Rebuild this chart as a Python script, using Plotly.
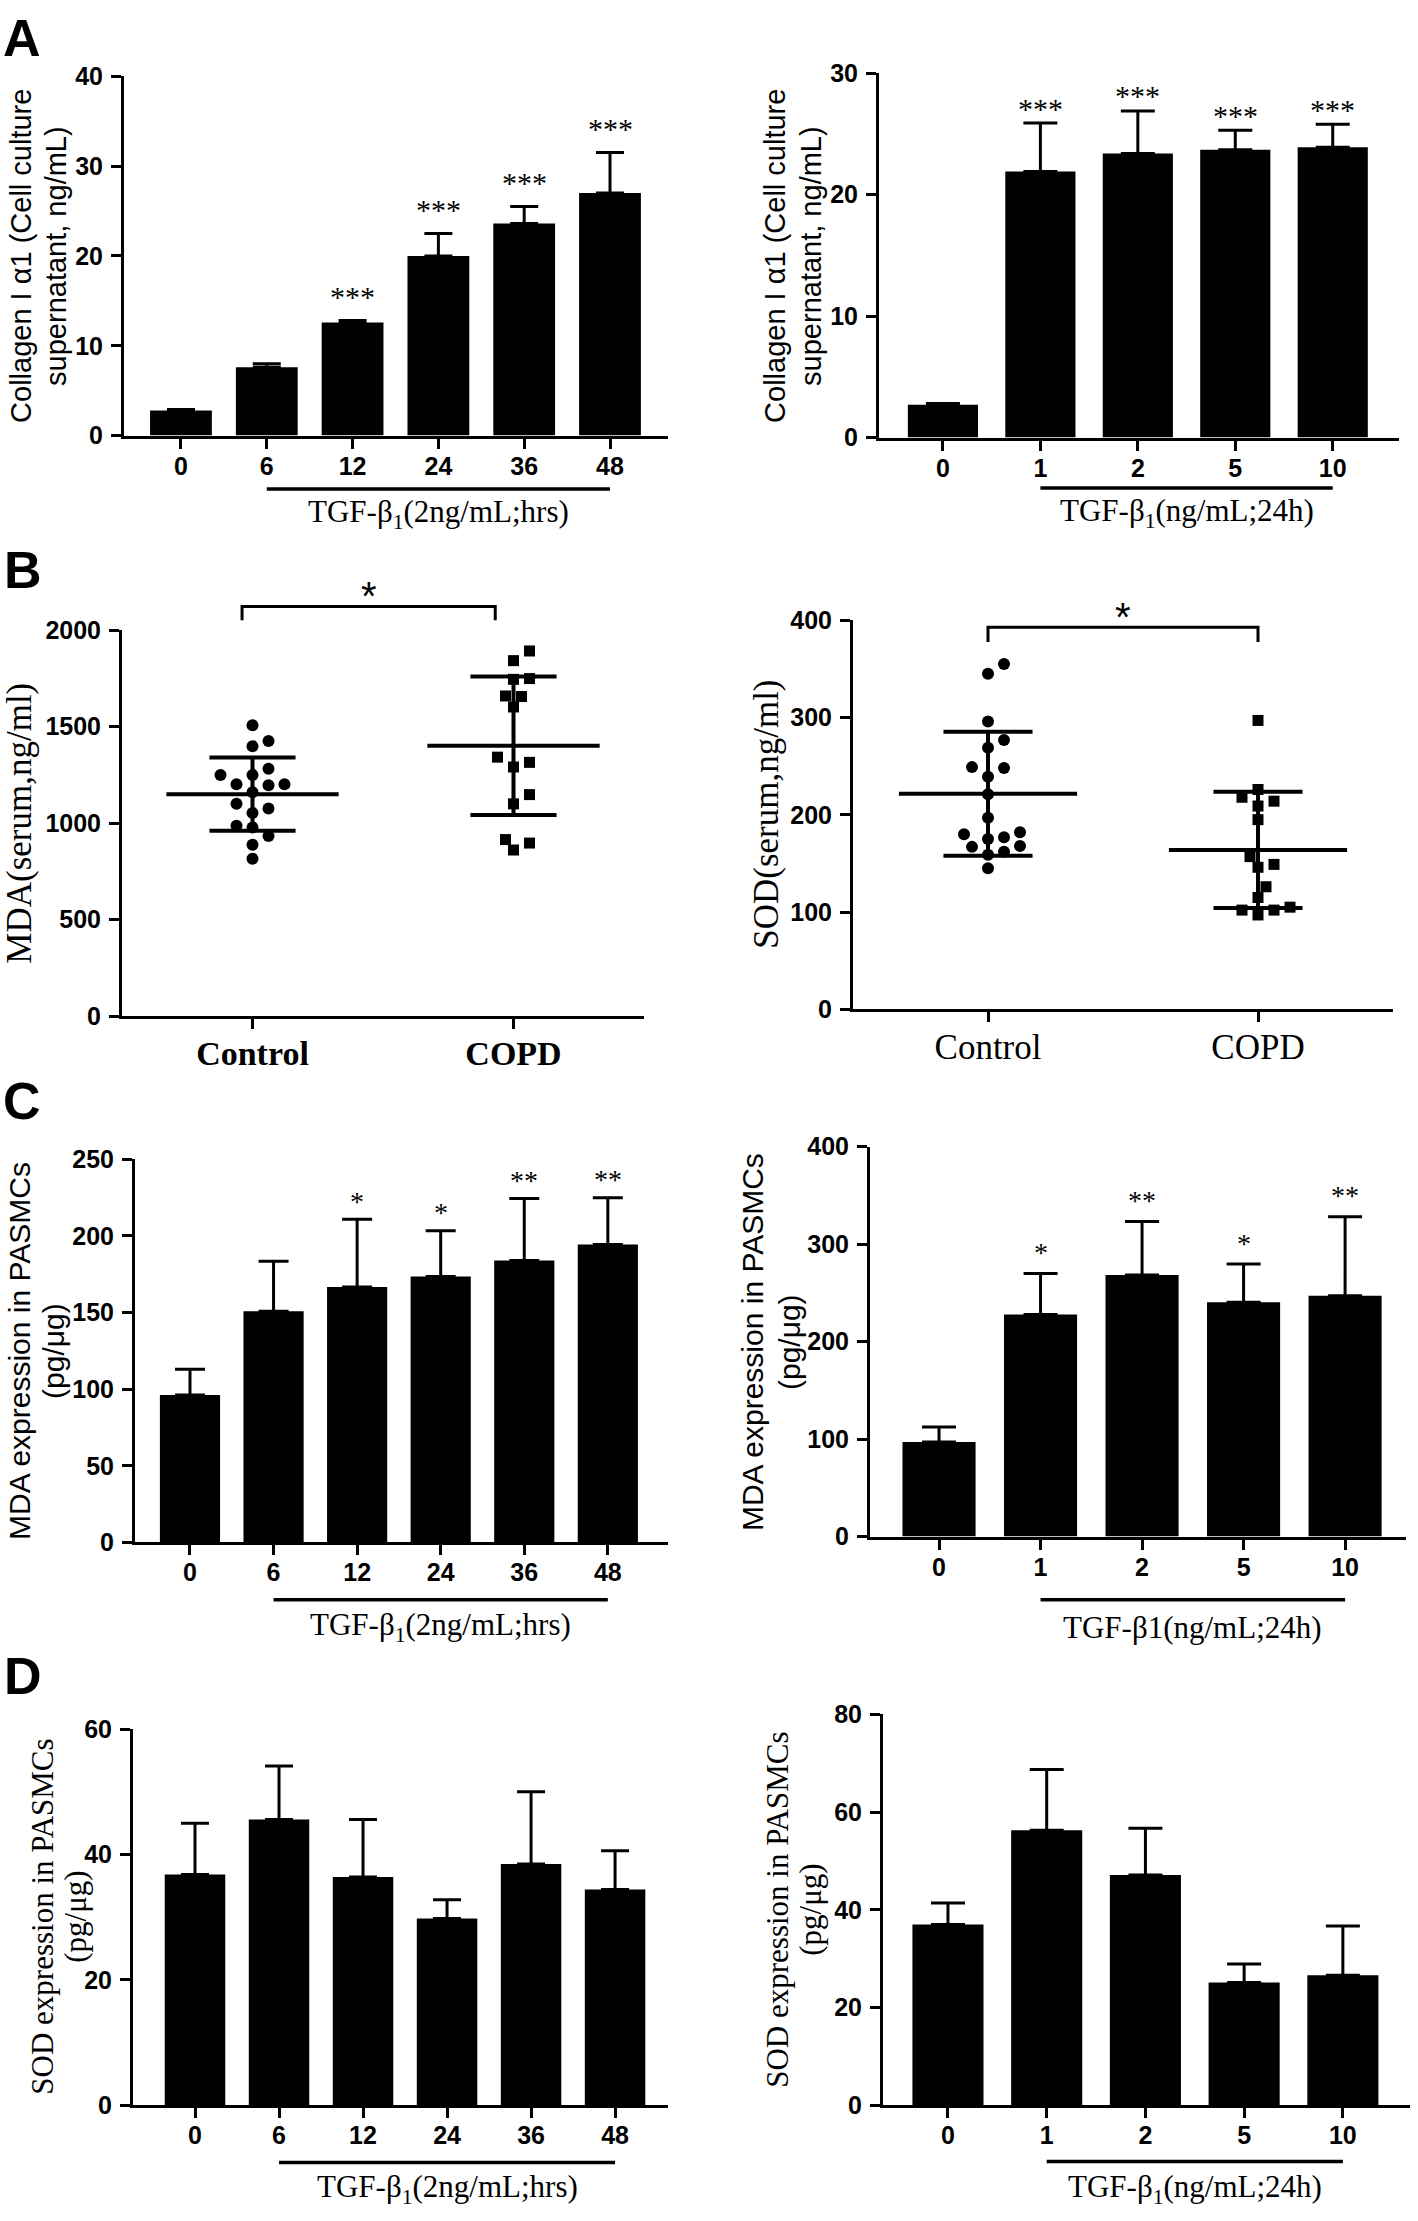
import numpy as np
import plotly.graph_objects as go

W, H = 1418, 2221
SANS = "Liberation Sans, Arial, Helvetica, sans-serif"
SERIF = "Liberation Serif, Times New Roman, Times, serif"

# ---------------- data ----------------
# A: Collagen I alpha1, time course and dose response
a_time_labels = ["0", "6", "12", "24", "36", "48"]
a_time_mean = [2.8, 7.6, 12.6, 20.0, 23.6, 27.0]
a_time_err = [0.1, 0.4, 0.2, 2.5, 1.9, 4.5]
a_time_sig = ["", "", "***", "***", "***", "***"]

a_dose_labels = ["0", "1", "2", "5", "10"]
a_dose_mean = [2.7, 21.9, 23.4, 23.7, 23.9]
a_dose_err = [0.1, 4.0, 3.5, 1.6, 1.9]
a_dose_sig = ["", "***", "***", "***", "***"]

# B: serum MDA / SOD, Control vs COPD
b_groups = ["Control", "COPD"]
b_mda_control = [1507, 1426, 1399, 1282, 1250, 1250, 1202, 1196, 1202, 1160,
                 1100, 1076, 1053, 978, 987, 933, 888, 816]
b_mda_copd = [1892, 1842, 1749, 1745, 1656, 1659, 1602, 1342, 1315, 1291,
              1148, 1100, 915, 897, 861]
b_sod_control = [355, 345, 296, 277, 269, 248, 249, 239, 221, 197, 180, 175,
                 177, 182, 167, 168, 162, 159, 145]
b_sod_copd = [297, 226, 218, 214, 209, 195, 157, 149, 146, 126, 115, 102,
              102, 105, 97]

# C: MDA expression in PASMCs
c_time_labels = ["0", "6", "12", "24", "36", "48"]
c_time_mean = [96.3, 150.9, 166.7, 173.6, 184.0, 194.4]
c_time_err = [16.7, 32.6, 44.3, 29.9, 40.5, 30.6]
c_time_sig = ["", "", "*", "*", "**", "**"]

c_dose_labels = ["0", "1", "2", "5", "10"]
c_dose_mean = [96.9, 227.7, 268.2, 240.4, 246.9]
c_dose_err = [15.4, 42.2, 54.8, 39.1, 81.1]
c_dose_sig = ["", "*", "**", "*", "**"]

# D: SOD expression in PASMCs
d_time_labels = ["0", "6", "12", "24", "36", "48"]
d_time_mean = [36.8, 45.6, 36.4, 29.8, 38.5, 34.4]
d_time_err = [8.2, 8.5, 9.2, 3.0, 11.5, 6.2]

d_dose_labels = ["0", "1", "2", "5", "10"]
d_dose_mean = [37.0, 56.3, 47.1, 25.1, 26.6]
d_dose_err = [4.4, 12.4, 9.6, 3.8, 10.1]

# ---------------- layout geometry (pixels) ----------------
panels = [
    dict(x0=124, x1=668, yt=63, yb=427, xr=[-0.664, 5.676], yr=[0, 40], dt=10),
    dict(x0=879, x1=1399, yt=60, yb=429, xr=[-0.656, 4.68], yr=[0, 30], dt=10),
    dict(x0=122, x1=644, yt=624, yb=1015, xr=[-0.5, 1.5], yr=[0, 2000], dt=500),
    dict(x0=853, x1=1393, yt=614, yb=1008, xr=[-0.5, 1.5], yr=[0, 400], dt=100),
    dict(x0=135, x1=668, yt=1160, yb=1548, xr=[-0.658, 5.72], yr=[0, 250], dt=50),
    dict(x0=870, x1=1406, yt=1147, yb=1542, xr=[-0.68, 4.6], yr=[0, 400], dt=100),
    dict(x0=133, x1=668, yt=1737, yb=2118, xr=[-0.738, 5.63], yr=[0, 60], dt=20),
    dict(x0=883, x1=1410, yt=1722, yb=2118, xr=[-0.658, 4.68], yr=[0, 80], dt=20),
]


def px_x(px):
    return px / W


def px_y(py):
    return 1 - py / H


fig = go.Figure()
annotations = []
shapes = []

for i, p in enumerate(panels):
    n = i + 1
    sfx = "" if n == 1 else str(n)
    ticks = list(range(p["yr"][0], p["yr"][1] + 1, p["dt"]))
    fig.update_layout(**{
        "xaxis" + sfx: dict(
            domain=[px_x(p["x0"]), px_x(p["x1"])], range=p["xr"], anchor="y" + sfx,
            showline=True, linewidth=3, linecolor="black", mirror=False,
            ticks="outside", ticklen=10, tickwidth=3, tickcolor="black",
            showgrid=False, zeroline=False, fixedrange=True,
            tickfont=dict(family=SANS, size=25, color="black", weight="bold"),
            ticklabelstandoff=-4,
        ),
        "yaxis" + sfx: dict(
            domain=[px_y(p["yb"]), px_y(p["yt"])], range=p["yr"], anchor="x" + sfx,
            showline=True, linewidth=3, linecolor="black",
            ticks="outside", ticklen=10, tickwidth=3, tickcolor="black",
            tickvals=ticks, ticktext=[str(t) for t in ticks],
            showgrid=False, zeroline=False, fixedrange=True,
            tickfont=dict(family=SANS, size=25, color="black", weight="bold"),
            ticklabelstandoff=3,
        ),
    })


def ref(n):
    return ("x" if n == 1 else "x%d" % n), ("y" if n == 1 else "y%d" % n)


def bar_panel(n, labels, mean, err, sig, capw, star_size, star_shift):
    xr, yr = ref(n)
    idx = list(range(len(labels)))
    fig.add_trace(go.Bar(
        x=idx, y=mean, width=0.72, xaxis=xr, yaxis=yr,
        marker=dict(color="black", line=dict(width=0)),
        error_y=dict(type="data", array=err, arrayminus=[0] * len(err), symmetric=False,
                     color="black", thickness=3, width=capw),
        showlegend=False, hoverinfo="skip",
    ))
    axname = "xaxis" if n == 1 else "xaxis%d" % n
    fig.update_layout(**{axname: dict(tickvals=idx, ticktext=labels)})
    if sig:
        for k, s in enumerate(sig):
            if s:
                annotations.append(dict(
                    x=k, y=mean[k] + err[k], xref=xr, yref=yr, text=s, showarrow=False,
                    yanchor="middle", yshift=star_shift,
                    font=dict(family=SERIF, size=star_size, color="black")))


bar_panel(1, a_time_labels, a_time_mean, a_time_err, a_time_sig, 14, 30, 24)
bar_panel(2, a_dose_labels, a_dose_mean, a_dose_err, a_dose_sig, 17, 30, 15)
bar_panel(5, c_time_labels, c_time_mean, c_time_err, c_time_sig, 15, 28, 18)
bar_panel(6, c_dose_labels, c_dose_mean, c_dose_err, c_dose_sig, 17, 28, 21)
bar_panel(7, d_time_labels, d_time_mean, d_time_err, None, 14, 28, 0)
bar_panel(8, d_dose_labels, d_dose_mean, d_dose_err, None, 17, 28, 0)


# ---------------- scatter (panel B) ----------------
def beeswarm(vals, px_per_unit, diam=13.0, step=8.0):
    order = sorted(range(len(vals)), key=lambda i: vals[i])
    placed, offs = [], [0.0] * len(vals)
    cands = [0.0]
    for j in range(1, 30):
        cands += [j * step, -j * step]
    for i in order:
        y = vals[i] * px_per_unit
        for c in cands:
            if all((c - px) ** 2 + (y - py) ** 2 >= diam ** 2 for px, py in placed):
                break
        placed.append((c, y))
        offs[i] = c
    return offs


def scatter_panel(n, groups, data, symbols, bold_labels, label_size, bracket):
    p = panels[n - 1]
    xr, yr = ref(n)
    ypx = (p["yb"] - p["yt"]) / (p["yr"][1] - p["yr"][0])
    xpx = (p["x1"] - p["x0"]) / (p["xr"][1] - p["xr"][0])
    for g, (vals, sym) in enumerate(zip(data, symbols)):
        offs = beeswarm(vals, ypx)
        fig.add_trace(go.Scatter(
            x=[g + o / xpx for o in offs], y=vals, mode="markers", xaxis=xr, yaxis=yr,
            marker=dict(symbol=sym, size=12 if sym == "circle" else 11, color="black",
                        line=dict(width=0)),
            cliponaxis=False, showlegend=False, hoverinfo="skip"))
        m = float(np.mean(vals))
        sd = float(np.std(vals, ddof=1))
        line = dict(color="black", width=4)
        shapes.append(dict(type="line", xref=xr, yref=yr, x0=g - 0.33, x1=g + 0.33,
                           y0=m, y1=m, line=line, layer="above"))
        for yv in (m - sd, m + sd):
            shapes.append(dict(type="line", xref=xr, yref=yr, x0=g - 0.165, x1=g + 0.165,
                               y0=yv, y1=yv, line=line, layer="above"))
        shapes.append(dict(type="line", xref=xr, yref=yr, x0=g, x1=g,
                           y0=m - sd, y1=m + sd, line=line, layer="above"))
    axname = "xaxis" if n == 1 else "xaxis%d" % n
    fig.update_layout(**{axname: dict(
        tickvals=list(range(len(groups))), ticktext=groups, ticklabelstandoff=-5,
        tickfont=dict(family=SERIF, size=label_size, color="black",
                      weight="bold" if bold_labels else "normal"))})
    bx0, bx1, by, byleg = bracket
    shapes.append(dict(
        type="path", xref=xr, yref="paper",
        path="M %f,%f L %f,%f L %f,%f L %f,%f" % (
            bx0, px_y(byleg), bx0, px_y(by), bx1, px_y(by), bx1, px_y(byleg)),
        line=dict(color="black", width=3)))
    annotations.append(dict(
        x=(bx0 + bx1) / 2, y=px_y(by), xref=xr, yref="paper", text="*", showarrow=False,
        yanchor="middle", yshift=10, font=dict(family=SANS, size=40, color="black")))


scatter_panel(3, b_groups, [b_mda_control, b_mda_copd], ["circle", "square"], True, 34,
              (-0.04, 0.93, 600, 614))
scatter_panel(4, b_groups, [b_sod_control, b_sod_copd], ["circle", "square"], False, 35,
              (0.0, 1.0, 621, 636))

# ---------------- underlines and treatment labels ----------------
treat = [
    (1, 5, 481, 506, "TGF-β<sub>1</sub>(2ng/mL;hrs)"),
    (2, 4, 480, 505, "TGF-β<sub>1</sub>(ng/mL;24h)"),
    (5, 5, 1606, 1634, "TGF-β<sub>1</sub>(2ng/mL;hrs)"),
    (6, 4, 1606, 1634, "TGF-β1(ng/mL;24h)"),
    (7, 5, 2176, 2203, "TGF-β<sub>1</sub>(2ng/mL;hrs)"),
    (8, 4, 2175, 2203, "TGF-β<sub>1</sub>(ng/mL;24h)"),
]
for n, last, uy, ty, txt in treat:
    xr, yr = ref(n)
    shapes.append(dict(type="line", xref=xr, yref="paper", x0=1, x1=last,
                       y0=px_y(uy), y1=px_y(uy), line=dict(color="black", width=3.5)))
    annotations.append(dict(x=(1 + last) / 2, y=px_y(ty), xref=xr, yref="paper", text=txt,
                            showarrow=False, xanchor="center", yanchor="middle",
                            font=dict(family=SERIF, size=31, color="black")))

# ---------------- y axis titles (one annotation per line) ----------------
ytitles = [
    ([21, 56], 245, ["Collagen I α1 (Cell culture", "supernatant, ng/mL)"], SANS, 29),
    ([775, 811], 245, ["Collagen I α1 (Cell culture", "supernatant, ng/mL)"], SANS, 29),
    ([20], 820, ["MDA(serum,ng/ml)"], SERIF, 35),
    ([767], 811, ["SOD(serum,ng/ml)"], SERIF, 35),
    ([20, 54], 1354, ["MDA expression in PASMCs", "(pg/μg)"], SANS, 30),
    ([752, 789], 1345, ["MDA expression in PASMCs", "(pg/μg)"], SANS, 30),
    ([43, 76], 1927, ["SOD expression in PASMCs", "(pg/μg)"], SERIF, 31),
    ([778, 811], 1920, ["SOD expression in PASMCs", "(pg/μg)"], SERIF, 31),
]
for xps, yp, lines, fam, sz in ytitles:
    for xp, txt in zip(xps, lines):
        annotations.append(dict(x=px_x(xp), y=px_y(yp), xref="paper", yref="paper",
                                text=txt, textangle=-90, showarrow=False,
                                xanchor="center", yanchor="middle",
                                font=dict(family=fam, size=sz, color="black")))

# ---------------- panel letters ----------------
for xp, yp, letter in [(22, 24, "A"), (23, 563, "B"), (22, 1101, "C"), (23, 1683, "D")]:
    annotations.append(dict(x=px_x(xp), y=px_y(yp), xref="paper", yref="paper", text=letter,
                            showarrow=False, xanchor="center", yanchor="middle",
                            font=dict(family=SANS, size=52, color="black", weight="bold")))

fig.update_layout(
    width=W, height=H, autosize=False,
    margin=dict(l=0, r=0, t=0, b=0, pad=0),
    paper_bgcolor="white", plot_bgcolor="white",
    showlegend=False, bargap=0.28,
    annotations=annotations, shapes=shapes,
)

fig.write_html("out.html", config={"displayModeBar": False},
               post_script="document.body.style.margin='0px';")
